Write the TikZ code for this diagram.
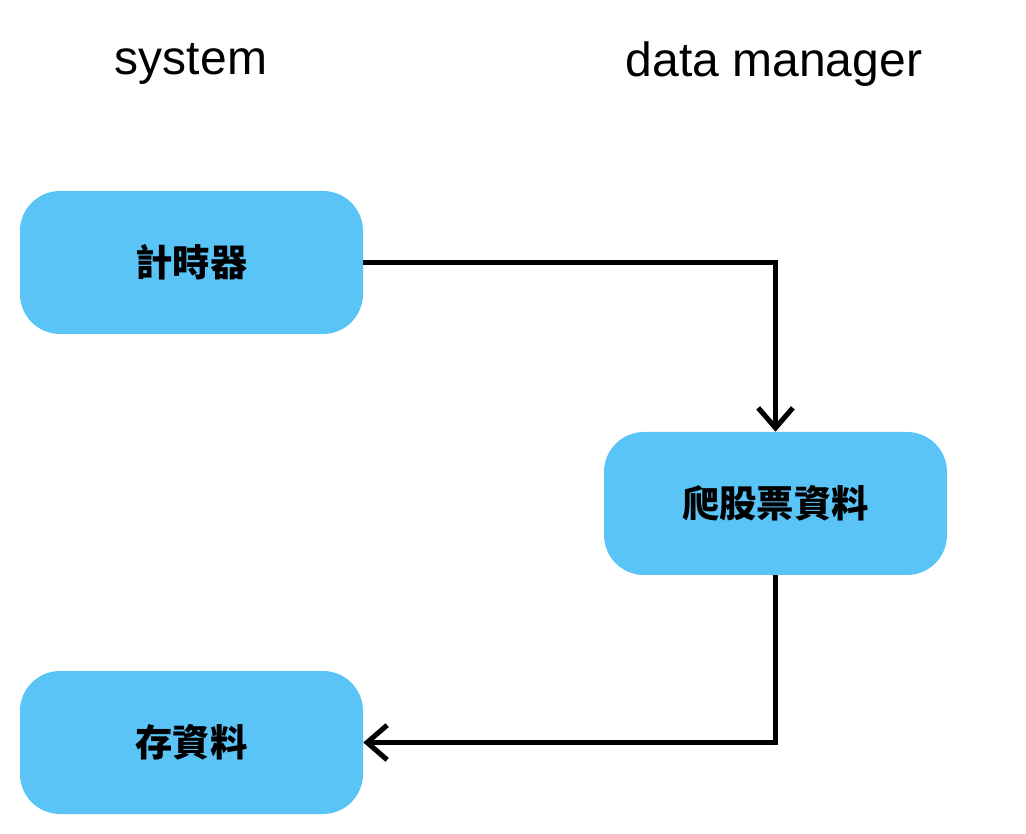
\documentclass[tikz,border=0pt]{standalone}
\usepackage{fontspec}
\setmainfont{Liberation Sans}
\newfontfamily\cjk{Noto Sans CJK TC}
\usetikzlibrary{arrows.meta}
\definecolor{boxblue}{HTML}{5AC4F7}
\tikzset{
  procbox/.style={fill=boxblue, draw=none, rounded corners=30pt, minimum width=257.25pt, minimum height=107.25pt, font=\cjk\bfseries\fontsize{28}{32}\selectfont, inner sep=0pt},
  title/.style={font=\fontsize{36}{42}\selectfont, inner sep=0pt},
  flow/.style={line width=3.8pt, -{Straight Barb[length=15pt, width=26pt, line width=3.8pt]}}
}
\begin{document}
\begin{tikzpicture}[x=0.75pt, y=-0.75pt]
\useasboundingbox (0,0) rectangle (1026,834);
\node[title] (t1) at (191,64) {system};
\node[title] (t2) at (774,64) {data manager};
\node[procbox] (timer) at (191.5,262.5) {計時器};
\node[procbox] (crawl) at (775.5,503.5) {爬股票資料};
\node[procbox] (save) at (191.5,742.5) {存資料};
\draw[flow] (timer.east) -| (crawl.north);
\draw[flow] (crawl.south) |- (save.east);
\end{tikzpicture}
\end{document}
